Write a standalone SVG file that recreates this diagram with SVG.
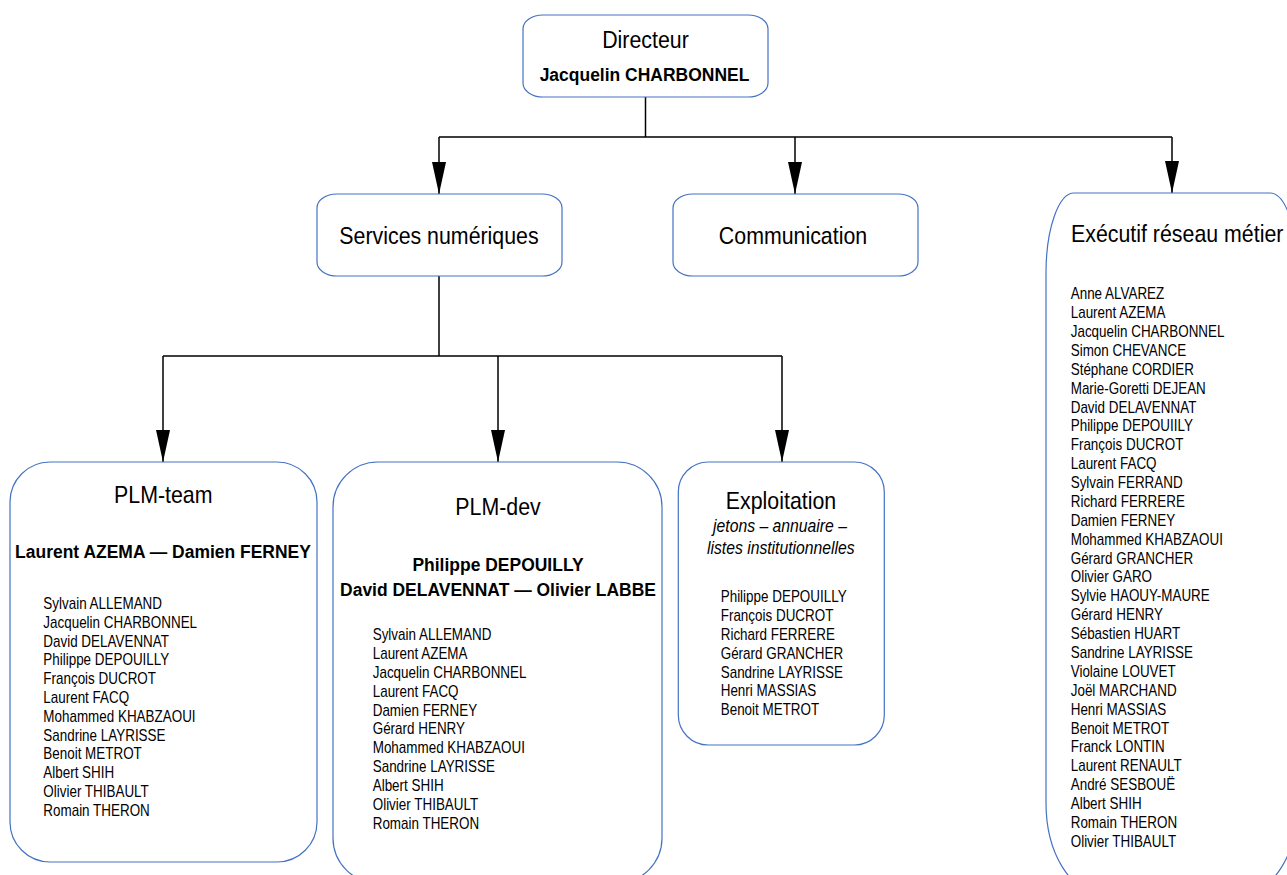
<svg xmlns="http://www.w3.org/2000/svg" width="1287" height="875" viewBox="0 0 1287 875">
<defs>
<style>
.box{fill:#fff;stroke:#4472c4;stroke-width:1.2}
.ln{fill:none;stroke:#000;stroke-width:1.5}
.arr{fill:none;stroke:#000;stroke-width:1.5;marker-end:url(#ah)}
text{font-family:"Liberation Sans",Arial,sans-serif;fill:#000}
.h{font-size:24px}
.b{font-size:19px;font-weight:bold}
.i{font-size:17.5px;font-style:italic}
.n{font-size:16px}
.c{text-anchor:middle}
</style>
<marker id="ah" markerUnits="userSpaceOnUse" markerWidth="33" markerHeight="16" viewBox="0 -8 33 16" refX="32" refY="0" orient="auto">
<path d="M0,-7 L32,0 L0,7 Z" fill="#000"/>
</marker>
</defs>
<rect width="1287" height="875" fill="#fff"/>

<g id="connectors">
<path class="ln" d="M645.5 97 V137 M439 137 H1172"/>
<path class="arr" d="M439 137 V194"/>
<path class="arr" d="M795 137 V194"/>
<path class="arr" d="M1172 137 V193"/>
<path class="ln" d="M439 276 V356 M163 356 H782"/>
<path class="arr" d="M163 356 V462"/>
<path class="arr" d="M498 356 V462"/>
<path class="arr" d="M782 356 V462"/>
</g>

<g id="directeur">
<rect class="box" x="523" y="15" width="245" height="82" rx="20" ry="14"/>
<text class="h c" transform="translate(645.5,48) scale(0.89,1)">Directeur</text>
<text class="b c" transform="translate(644.5,81) scale(0.92,1)">Jacquelin CHARBONNEL</text>
</g>

<g id="services">
<rect class="box" x="317" y="194" width="245" height="82" rx="20" ry="14"/>
<text class="h c" transform="translate(439,244) scale(0.89,1)">Services numériques</text>
</g>

<g id="communication">
<rect class="box" x="673" y="194" width="245" height="82" rx="20" ry="14"/>
<text class="h c" transform="translate(793,244) scale(0.89,1)">Communication</text>
</g>

<g id="executif">
<path class="box" d="M1074 193 H1270 A28 80 0 0 1 1298 273 V803 A55 90 0 0 1 1243 893 H1101 A55 90 0 0 1 1046 803 V273 A28 80 0 0 1 1074 193 Z"/>
<text class="h" transform="translate(1071,242) scale(0.89,1)">Exécutif réseau métier</text>
<text class="n" transform="translate(1070.7,299.3) scale(0.84,1)">
<tspan x="0" y="0">Anne ALVAREZ</tspan>
<tspan x="0" dy="18.88">Laurent AZEMA</tspan>
<tspan x="0" dy="18.88">Jacquelin CHARBONNEL</tspan>
<tspan x="0" dy="18.88">Simon CHEVANCE</tspan>
<tspan x="0" dy="18.88">Stéphane CORDIER</tspan>
<tspan x="0" dy="18.88">Marie-Goretti DEJEAN</tspan>
<tspan x="0" dy="18.88">David DELAVENNAT</tspan>
<tspan x="0" dy="18.88">Philippe DEPOUIILY</tspan>
<tspan x="0" dy="18.88">François DUCROT</tspan>
<tspan x="0" dy="18.88">Laurent FACQ</tspan>
<tspan x="0" dy="18.88">Sylvain FERRAND</tspan>
<tspan x="0" dy="18.88">Richard FERRERE</tspan>
<tspan x="0" dy="18.88">Damien FERNEY</tspan>
<tspan x="0" dy="18.88">Mohammed KHABZAOUI</tspan>
<tspan x="0" dy="18.88">Gérard GRANCHER</tspan>
<tspan x="0" dy="18.88">Olivier GARO</tspan>
<tspan x="0" dy="18.88">Sylvie HAOUY-MAURE</tspan>
<tspan x="0" dy="18.88">Gérard HENRY</tspan>
<tspan x="0" dy="18.88">Sébastien HUART</tspan>
<tspan x="0" dy="18.88">Sandrine LAYRISSE</tspan>
<tspan x="0" dy="18.88">Violaine LOUVET</tspan>
<tspan x="0" dy="18.88">Joël MARCHAND</tspan>
<tspan x="0" dy="18.88">Henri MASSIAS</tspan>
<tspan x="0" dy="18.88">Benoit METROT</tspan>
<tspan x="0" dy="18.88">Franck LONTIN</tspan>
<tspan x="0" dy="18.88">Laurent RENAULT</tspan>
<tspan x="0" dy="18.88">André SESBOUË</tspan>
<tspan x="0" dy="18.88">Albert SHIH</tspan>
<tspan x="0" dy="18.88">Romain THERON</tspan>
<tspan x="0" dy="18.88">Olivier THIBAULT</tspan>
</text>
</g>

<g id="plm-team">
<rect class="box" x="10" y="462" width="307" height="400" rx="40" ry="40"/>
<text class="h c" transform="translate(163.3,503) scale(0.89,1)">PLM-team</text>
<text class="b c" transform="translate(163,558) scale(0.92,1)">Laurent AZEMA — Damien FERNEY</text>
<text class="n" transform="translate(43.3,609) scale(0.84,1)">
<tspan x="0" y="0">Sylvain ALLEMAND</tspan>
<tspan x="0" dy="18.8">Jacquelin CHARBONNEL</tspan>
<tspan x="0" dy="18.8">David DELAVENNAT</tspan>
<tspan x="0" dy="18.8">Philippe DEPOUILLY</tspan>
<tspan x="0" dy="18.8">François DUCROT</tspan>
<tspan x="0" dy="18.8">Laurent FACQ</tspan>
<tspan x="0" dy="18.8">Mohammed KHABZAOUI</tspan>
<tspan x="0" dy="18.8">Sandrine LAYRISSE</tspan>
<tspan x="0" dy="18.8">Benoit METROT</tspan>
<tspan x="0" dy="18.8">Albert SHIH</tspan>
<tspan x="0" dy="18.8">Olivier THIBAULT</tspan>
<tspan x="0" dy="18.8">Romain THERON</tspan>
</text>
</g>

<g id="plm-dev">
<rect class="box" x="333" y="462" width="329" height="421" rx="45" ry="45"/>
<text class="h c" transform="translate(498,515) scale(0.89,1)">PLM-dev</text>
<text class="b c" transform="translate(498,571) scale(0.92,1)">Philippe DEPOUILLY</text>
<text class="b c" transform="translate(498,596) scale(0.92,1)">David DELAVENNAT — Olivier LABBE</text>
<text class="n" transform="translate(372.7,640) scale(0.84,1)">
<tspan x="0" y="0">Sylvain ALLEMAND</tspan>
<tspan x="0" dy="18.9">Laurent AZEMA</tspan>
<tspan x="0" dy="18.9">Jacquelin CHARBONNEL</tspan>
<tspan x="0" dy="18.9">Laurent FACQ</tspan>
<tspan x="0" dy="18.9">Damien FERNEY</tspan>
<tspan x="0" dy="18.9">Gérard HENRY</tspan>
<tspan x="0" dy="18.9">Mohammed KHABZAOUI</tspan>
<tspan x="0" dy="18.9">Sandrine LAYRISSE</tspan>
<tspan x="0" dy="18.9">Albert SHIH</tspan>
<tspan x="0" dy="18.9">Olivier THIBAULT</tspan>
<tspan x="0" dy="18.9">Romain THERON</tspan>
</text>
</g>

<g id="exploitation">
<rect class="box" x="678.3" y="462" width="206" height="283" rx="30" ry="30"/>
<text class="h c" transform="translate(781,509) scale(0.89,1)">Exploitation</text>
<text class="i c" transform="translate(780,532) scale(0.9,1)">jetons – annuaire –</text>
<text class="i c" transform="translate(780.8,554) scale(0.9,1)">listes institutionnelles</text>
<text class="n" transform="translate(720.7,602) scale(0.84,1)">
<tspan x="0" y="0">Philippe DEPOUILLY</tspan>
<tspan x="0" dy="18.9">François DUCROT</tspan>
<tspan x="0" dy="18.9">Richard FERRERE</tspan>
<tspan x="0" dy="18.9">Gérard GRANCHER</tspan>
<tspan x="0" dy="18.9">Sandrine LAYRISSE</tspan>
<tspan x="0" dy="18.9">Henri MASSIAS</tspan>
<tspan x="0" dy="18.9">Benoit METROT</tspan>
</text>
</g>
</svg>
